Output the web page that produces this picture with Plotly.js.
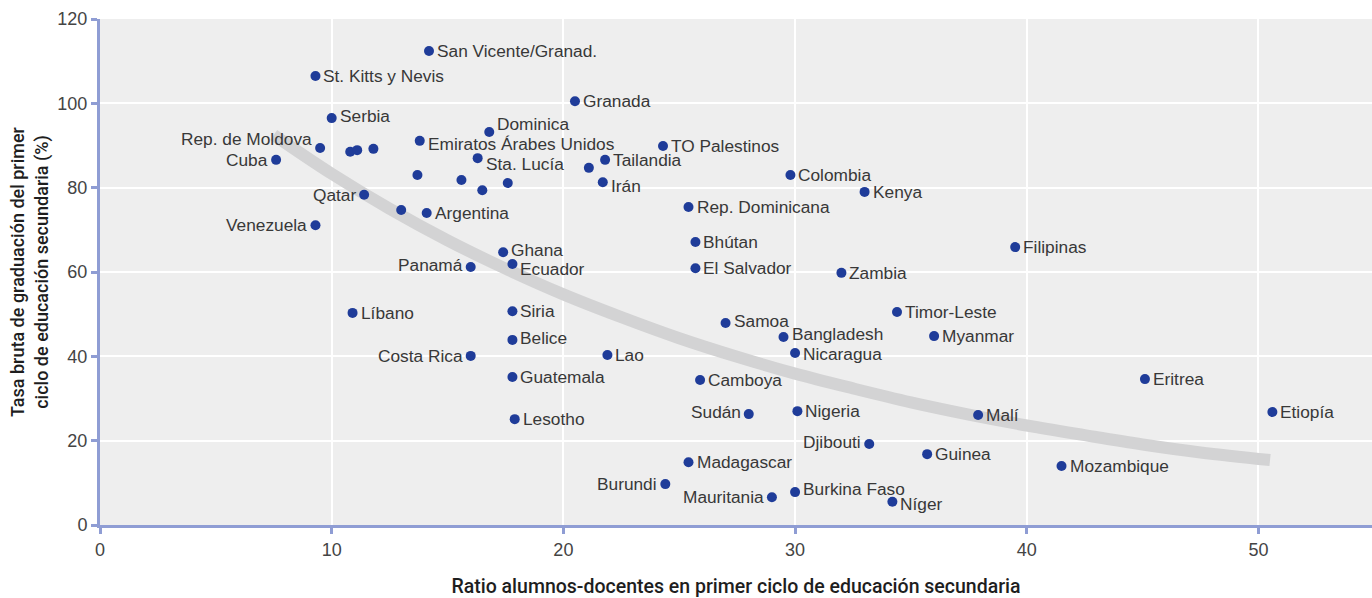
<!DOCTYPE html>
<html><head><meta charset="utf-8">
<script src="https://cdn.plot.ly/plotly-3.0.1.min.js"></script>
<style>html,body{margin:0;padding:0;background:#fff}#chart{width:1372px;height:598px}</style>
</head><body><div id="chart"></div>
<script>
// Data
const countries = ["San Vicente/Granad.","St. Kitts y Nevis","Granada","Serbia","Dominica","Rep. de Moldova","","","","Emiratos Árabes Unidos","Cuba","TO Palestinos","Sta. Lucía","Tailandia","","Irán","Colombia","Kenya","","","","","Qatar","","Argentina","Rep. Dominicana","Venezuela","Filipinas","Bhútan","Ghana","Panamá","Ecuador","El Salvador","Zambia","Líbano","Siria","Timor-Leste","Samoa","Bangladesh","Myanmar","Belice","Nicaragua","Costa Rica","Lao","Guatemala","Camboya","Eritrea","Sudán","Nigeria","Malí","Etiopía","Lesotho","Djibouti","Guinea","Madagascar","Mozambique","Burundi","Mauritania","Burkina Faso","Níger"];
const ratio = [14.2,9.3,20.5,10.0,16.8,9.5,10.8,11.1,11.8,13.8,7.6,24.3,16.3,21.8,21.1,21.7,29.8,33.0,13.7,15.6,16.5,17.6,11.4,13.0,14.1,25.4,9.3,39.5,25.7,17.4,16.0,17.8,25.7,32.0,10.9,17.8,34.4,27.0,29.5,36.0,17.8,30.0,16.0,21.9,17.8,25.9,45.1,28.0,30.1,37.9,50.6,17.9,33.2,35.7,25.4,41.5,24.4,29.0,30.0,34.2];
const gradRate = [112.4,106.5,100.5,96.5,93.2,89.4,88.5,88.9,89.2,91.1,86.6,89.9,87.0,86.6,84.7,81.3,83.0,79.0,83.0,81.8,79.4,81.1,78.3,74.7,74.0,75.4,71.1,65.9,67.1,64.7,61.2,61.9,60.9,59.8,50.3,50.7,50.5,47.9,44.6,44.8,43.9,40.8,40.1,40.3,35.1,34.4,34.6,26.3,27.0,26.1,26.8,25.1,19.2,16.8,14.9,14.0,9.7,6.6,7.8,5.5];
// Fitted trend curve, read at points along the grey band
const trendX = [7.5,10,12.5,15,17.5,20,22.5,25,27.5,30,32.5,35,37.5,40,42.5,45,47.5,50.5];
const trendY = [92.5,83.3,75.0,67.5,60.8,54.7,49.3,44.3,39.9,35.9,32.4,29.1,26.2,23.6,21.3,19.1,17.2,15.4];
const xTicks = [0,10,20,30,40,50];
const yTicks = [0,20,40,60,80,100,120];

// Label placement (side of marker, vertical pixel nudge; positive = down)
const labelSide = ["r","r","r","r","r","l","","","","r","l","r","r","r","","r","r","r","","","","","l","","r","r","l","r","r","r","l","r","r","r","r","r","r","r","r","r","r","r","l","r","r","r","r","l","r","r","r","r","l","r","r","r","l","l","r","r"];
const labelDy = {"Serbia":-2,"Dominica":-8,"Rep. de Moldova":-9,"Emiratos Árabes Unidos":3,"Sta. Lucía":6,"Irán":4,"Ghana":-2,"Panamá":-2,"Ecuador":5,"Samoa":-2,"Bangladesh":-3,"Nicaragua":1,"Belice":-2,"Sudán":-2,"Djibouti":-2,"Burkina Faso":-3,"Níger":2};

const annotations = [];
countries.forEach((c,i)=>{
  if(!c) return;
  const s = labelSide[i];
  annotations.push({
    x: ratio[i], y: gradRate[i], xref:'x', yref:'y', text: c, showarrow:false,
    xanchor: s==='l' ? 'right' : 'left', yanchor:'middle',
    xshift: s==='l' ? -6 : 6, yshift: -(labelDy[c]||0),
    font:{family:'Liberation Sans, Arial, sans-serif', size:17.3, color:'#383838'}
  });
});

const traces = [
  {x: trendX, y: trendY, mode:'lines', type:'scatter', line:{color:'#d3d3d4', width:12, shape:'spline'}, hoverinfo:'skip'},
  {x: ratio, y: gradRate, mode:'markers', type:'scatter', marker:{color:'#1f3c99', size:10}, text: countries}
];

const axisCol = '#8f9dd4';
const layout = {
  width:1372, height:598,
  margin:{l:100, r:0, t:19, b:73},
  paper_bgcolor:'#ffffff', plot_bgcolor:'#eeeeee',
  showlegend:false,
  font:{family:'Liberation Sans, Arial, sans-serif', color:'#444444'},
  xaxis:{range:[0,54.9], tickvals:xTicks, ticktext:xTicks.map(String), showgrid:true, gridcolor:'#ffffff', gridwidth:2,
    zeroline:false, showline:true, linecolor:axisCol, linewidth:3, ticks:'outside', ticklen:6, tickwidth:3, tickcolor:axisCol,
    tickfont:{size:18, color:'#444444'},
    title:{text:'Ratio alumnos-docentes en primer ciclo de educación secundaria', font:{family:'Roboto, Liberation Sans, sans-serif', size:19.5, weight:500, color:'#1e1e1e'}, standoff:25}},
  yaxis:{range:[0,120], tickvals:yTicks, ticktext:yTicks.map(String), showgrid:true, gridcolor:'#ffffff', gridwidth:2,
    zeroline:false, showline:true, linecolor:axisCol, linewidth:3, ticks:'outside', ticklen:6, tickwidth:3, tickcolor:axisCol,
    tickfont:{size:18, color:'#444444'},
    title:{text:'Tasa bruta de graduación del primer<br>ciclo de educación secundaria (%)', font:{family:'Roboto, Liberation Sans, sans-serif', size:18, weight:500, color:'#1e1e1e'}, standoff:5}},
  annotations: annotations
};
Plotly.newPlot('chart', traces, layout, {staticPlot:true});
</script></body></html>
